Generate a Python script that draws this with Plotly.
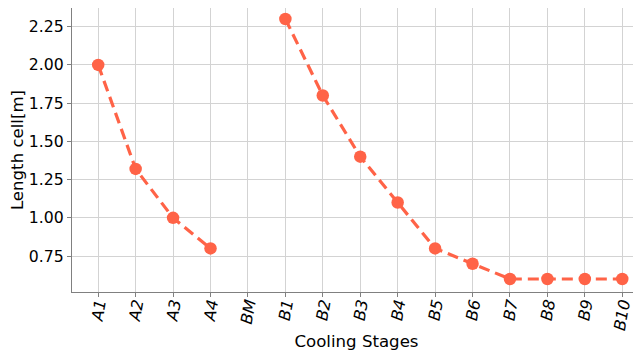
import plotly.graph_objects as go

stages = ["A1", "A2", "A3", "A4", "BM", "B1", "B2", "B3", "B4", "B5", "B6", "B7", "B8", "B9", "B10"]
length_cell = [2.0, 1.32, 1.0, 0.8, None, 2.3, 1.8, 1.4, 1.1, 0.8, 0.7, 0.6, 0.6, 0.6, 0.6]
y_ticks = [0.75, 1.0, 1.25, 1.5, 1.75, 2.0, 2.25]
y_tick_text = ["0.75", "1.00", "1.25", "1.50", "1.75", "2.00", "2.25"]

x_idx = list(range(len(stages)))

fig = go.Figure()
fig.add_trace(go.Scatter(
    x=x_idx, y=length_cell, mode="lines+markers",
    line=dict(color="#FF6347", width=3.2, dash="11px,6px"),
    marker=dict(color="#FF6347", size=12.5),
    connectgaps=False, showlegend=False,
))

# page body has an 8px margin, so the figure is sized to fit the 641x354 window
fig.update_layout(
    width=633, height=346,
    margin=dict(l=64, r=0, t=0, b=62),
    paper_bgcolor="white", plot_bgcolor="white",
    font=dict(family="DejaVu Sans", size=16, color="black"),
)
fig.update_xaxes(
    range=[-0.7, 14.5], automargin=False,
    tickmode="array", tickvals=x_idx, ticktext=stages,
    tickangle=-80, tickfont=dict(size=16, style="italic"),
    ticklabelstandoff=-9,
    showgrid=True, gridcolor="#d3d3d3", gridwidth=1,
    showline=True, linecolor="#808080", linewidth=1.2, mirror=True,
    ticks="outside", ticklen=4, tickcolor="#808080",
    zeroline=False,
    title=dict(text="Cooling Stages", font=dict(size=16.6), standoff=4),
)
fig.update_yaxes(
    range=[0.515, 2.372], automargin=False,
    tickmode="array", tickvals=y_ticks, ticktext=y_tick_text,
    tickfont=dict(size=15.7),
    showgrid=True, gridcolor="#d3d3d3", gridwidth=1,
    showline=True, linecolor="#808080", linewidth=1.2,
    ticks="outside", ticklen=4, tickcolor="#808080",
    zeroline=False,
    title=dict(text="Length cell[m]", font=dict(size=16.6), standoff=6),
)

fig.write_html("out.html")
